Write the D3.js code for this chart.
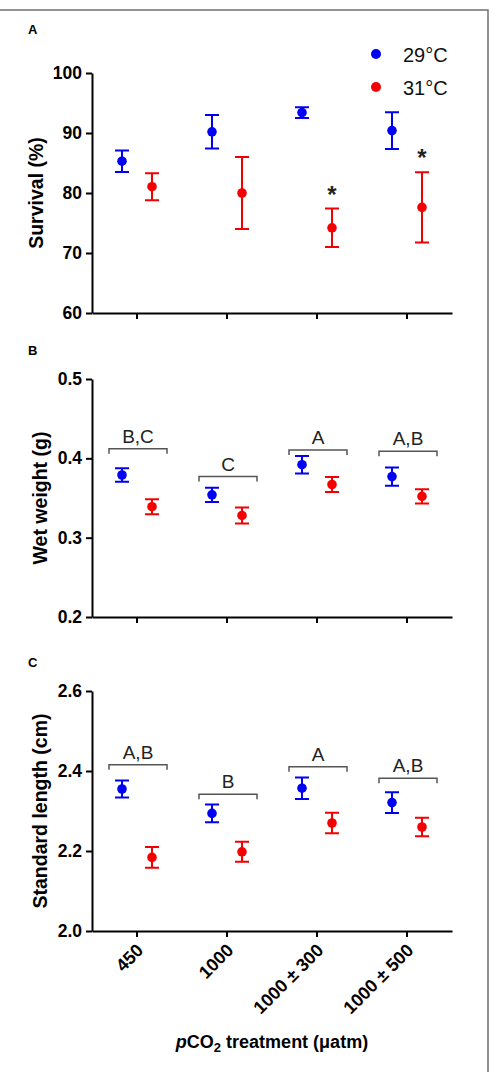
<!DOCTYPE html>
<html>
<head>
<meta charset="utf-8">
<script src="https://cdn.jsdelivr.net/npm/d3@7"></script>
<style>
  body { margin: 0; background: #fff; }
  svg { display: block; font-family: "Liberation Sans", Arial, Helvetica, sans-serif; }
</style>
</head>
<body>
<script>
// data (mean, error half-width)
const categories = ["450", "1000", "1000 \u00b1 300", "1000 \u00b1 500"];
const temps = ["29\u00b0C", "31\u00b0C"];
const colors = ["#0000f5", "#f50000"];

const survival29 = [85.3, 90.2, 93.4, 90.4];
const survival29Err = [1.8, 2.8, 0.9, 3.05];
const survival31 = [81.05, 80.0, 74.2, 77.6];
const survival31Err = [2.25, 6.0, 3.2, 5.85];
const survivalStars = ["", "", "*", "*"];

const weight29 = [0.379, 0.354, 0.392, 0.377];
const weight29Err = [0.0085, 0.009, 0.011, 0.0115];
const weight31 = [0.339, 0.328, 0.367, 0.352];
const weight31Err = [0.0095, 0.010, 0.0095, 0.009];
const weightGroups = ["B,C", "C", "A", "A,B"];
const weightBracket = [0.412, 0.377, 0.4106, 0.409];

const length29 = [2.355, 2.294, 2.357, 2.321];
const length29Err = [0.021, 0.022, 0.027, 0.026];
const length31 = [2.184, 2.198, 2.270, 2.260];
const length31Err = [0.026, 0.025, 0.0255, 0.023];
const lengthGroups = ["A,B", "B", "A", "A,B"];
const lengthBracket = [2.4155, 2.342, 2.4105, 2.382];

const width = 495, height = 1072;
const left = 92, right = 452;

const svg = d3.select("body").append("svg")
  .attr("width", width)
  .attr("height", height);

svg.append("rect").attr("width", width).attr("height", height).attr("fill", "#fff");

// frame of the original figure
svg.append("path")
  .attr("d", `M0,10H488V${height}`)
  .attr("fill", "none")
  .attr("stroke", "#6f6f6f")
  .attr("stroke-width", 1.5);

const x = d3.scaleBand().domain(categories).range([left, right]);
const offset = d3.scalePoint().domain(temps).range([-15, 15]);

const panels = [
  { letter: "A", top: 73, bottom: 313, domain: [60, 100], ticks: [60, 70, 80, 90, 100], fmt: d3.format("d"),
    label: "Survival (%)", labelX: 43, letterY: 34,
    series: [[survival29, survival29Err], [survival31, survival31Err]], stars: survivalStars },
  { letter: "B", top: 379, bottom: 617, domain: [0.2, 0.5], ticks: [0.2, 0.3, 0.4, 0.5], fmt: d3.format(".1f"),
    label: "Wet weight (g)", labelX: 47, letterY: 355,
    series: [[weight29, weight29Err], [weight31, weight31Err]], groups: weightGroups, bracket: weightBracket },
  { letter: "C", top: 691, bottom: 931, domain: [2.0, 2.6], ticks: [2.0, 2.2, 2.4, 2.6], fmt: d3.format(".1f"),
    label: "Standard length (cm)", labelX: 47, letterY: 667,
    series: [[length29, length29Err], [length31, length31Err]], groups: lengthGroups, bracket: lengthBracket, xLabels: true }
];

panels.forEach(p => {
  const y = d3.scaleLinear().domain(p.domain).range([p.bottom, p.top]);
  const g = svg.append("g");

  // panel letter
  g.append("text")
    .attr("x", 28).attr("y", p.letterY)
    .attr("font-size", 13).attr("font-weight", "bold")
    .text(p.letter);

  // y axis
  const ya = g.append("g")
    .attr("transform", `translate(${left},0)`)
    .call(d3.axisLeft(y).tickValues(p.ticks).tickFormat(p.fmt).tickSize(6).tickSizeOuter(0).tickPadding(4));
  ya.select(".domain").attr("stroke-width", 2);
  ya.selectAll(".tick line").attr("stroke-width", 2);
  ya.selectAll("text").attr("font-size", 17.5).attr("font-weight", "bold").attr("fill", "#000")
    .attr("font-family", null);

  // x axis
  const xa = g.append("g")
    .attr("transform", `translate(0,${p.bottom})`)
    .call(d3.axisBottom(x).tickSize(6).tickSizeOuter(0));
  xa.select(".domain").attr("stroke-width", 2);
  xa.selectAll(".tick line").attr("stroke-width", 2);
  if (p.xLabels) {
    xa.selectAll("text")
      .attr("font-size", 18).attr("font-weight", "bold").attr("fill", "#000").attr("font-family", null)
      .attr("text-anchor", "end")
      .attr("transform", "translate(3,16) rotate(-45)")
      .attr("y", 0).attr("dy", "0.35em");
  } else {
    xa.selectAll("text").remove();
  }

  // y label
  g.append("text")
    .attr("transform", `translate(${p.labelX},${(p.top + p.bottom) / 2}) rotate(-90)`)
    .attr("text-anchor", "middle")
    .attr("font-size", 19.5).attr("font-weight", "bold")
    .text(p.label);

  // error bars and points
  p.series.forEach(([vals, errs], ti) => {
    const t = temps[ti];
    const s = g.append("g").attr("stroke", colors[ti]).attr("fill", colors[ti]).attr("stroke-width", 2);
    categories.forEach((c, i) => {
      const cx = x(c) + x.bandwidth() / 2 + offset(t);
      const y0 = y(vals[i] - errs[i]), y1 = y(vals[i] + errs[i]);
      s.append("path")
        .attr("fill", "none")
        .attr("d", `M${cx},${y0}V${y1}M${cx - 7},${y0}H${cx + 7}M${cx - 7},${y1}H${cx + 7}`);
      s.append("circle").attr("cx", cx).attr("cy", y(vals[i])).attr("r", 4.8).attr("stroke", "none");
    });
  });

  // significance stars on the 31°C series
  if (p.stars) {
    const [vals, errs] = p.series[1];
    categories.forEach((c, i) => {
      if (!p.stars[i]) return;
      g.append("text")
        .attr("x", x(c) + x.bandwidth() / 2 + offset(temps[1]))
        .attr("y", y(vals[i] + errs[i]) - 6)
        .attr("text-anchor", "middle")
        .attr("font-size", 24).attr("font-weight", "bold").attr("fill", "#222")
        .text(p.stars[i]);
    });
  }

  // group brackets with letters
  if (p.groups) {
    categories.forEach((c, i) => {
      const cx = x(c) + x.bandwidth() / 2 + 1;
      const by = y(p.bracket[i]);
      g.append("path")
        .attr("d", `M${cx - 29},${by + 5}V${by}H${cx + 29}V${by + 5}`)
        .attr("fill", "none").attr("stroke", "#555").attr("stroke-width", 1.5);
      g.append("text")
        .attr("x", cx).attr("y", by - 6)
        .attr("text-anchor", "middle")
        .attr("font-size", 19).attr("fill", "#222")
        .text(p.groups[i]);
    });
  }
});

// legend
const legend = svg.append("g");
temps.forEach((t, i) => {
  const ly = 54 + i * 33;
  legend.append("circle").attr("cx", 376).attr("cy", ly).attr("r", 5).attr("fill", colors[i]);
  legend.append("text")
    .attr("x", 403).attr("y", ly + 8)
    .attr("font-size", 20).attr("fill", "#111")
    .text(t);
});

// x axis title
const xt = svg.append("text")
  .attr("x", (left + right) / 2).attr("y", 1048)
  .attr("text-anchor", "middle")
  .attr("font-size", 18).attr("font-weight", "bold");
xt.append("tspan").attr("font-style", "italic").text("p");
xt.append("tspan").text("CO");
xt.append("tspan").attr("font-size", 13).attr("dy", 4).text("2");
xt.append("tspan").attr("dy", -4).text(" treatment (\u03bcatm)");
</script>
</body>
</html>
